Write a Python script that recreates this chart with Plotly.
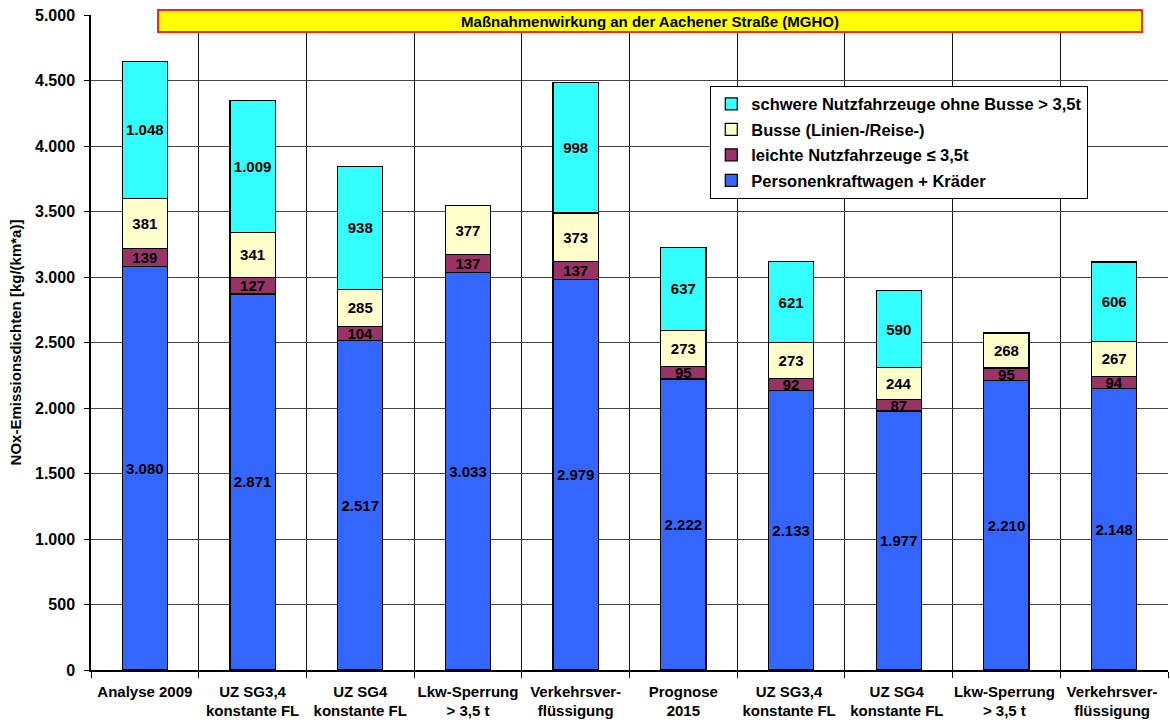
import plotly.graph_objects as go

# Szenarien (Kategorien der x-Achse)
categories = [
    "Analyse 2009",
    "UZ SG3,4<br>konstante FL",
    "UZ SG4<br>konstante FL",
    "Lkw-Sperrung<br>> 3,5 t",
    "Verkehrsver-<br>flüssigung",
    "Prognose<br>2015",
    "UZ SG3,4 <br>konstante FL ",
    "UZ SG4 <br>konstante FL ",
    "Lkw-Sperrung <br>> 3,5 t ",
    "Verkehrsver- <br>flüssigung ",
]

# NOx-Emissionsdichten in kg/(km*a) je Fahrzeuggruppe
pkw = [3080, 2871, 2517, 3033, 2979, 2222, 2133, 1977, 2210, 2148]
lnf = [139, 127, 104, 137, 137, 95, 92, 87, 95, 94]
busse = [381, 341, 285, 377, 373, 273, 273, 244, 268, 267]
snf = [1048, 1009, 938, None, 998, 637, 621, 590, None, 606]

series_names = [
    "Personenkraftwagen + Kräder",
    "leichte Nutzfahrzeuge ≤ 3,5t",
    "Busse (Linien-/Reise-)",
    "schwere Nutzfahrzeuge ohne Busse > 3,5t",
]
series_values = [pkw, lnf, busse, snf]
series_colors = ["#3366FF", "#993366", "#FFFFCC", "#33FFFF"]

y_ticks = list(range(0, 5001, 500))
y_ticktext = [f"{v:,}".replace(",", ".") for v in y_ticks]


def fmt(v):
    return "" if v is None else f"{v:,}".replace(",", ".")


FONT = "Liberation Sans, Arial, sans-serif"

fig = go.Figure()
n = len(series_names)
for i, (name, vals, color) in enumerate(zip(series_names, series_values, series_colors)):
    fig.add_trace(go.Bar(
        name=f"<b>{name}</b>",
        legendgroup=f"g{i}",
        legendrank=n - i,
        x=categories,
        y=vals,
        marker=dict(color=color, line=dict(color="#000000", width=1.2)),
        text=[fmt(v) for v in vals],
        textposition="inside",
        insidetextanchor="middle",
        textangle=0,
        textfont=dict(family=FONT, size=15, color="#000000", weight="bold"),
        width=0.42,
        hoverinfo="skip",
    ))

fig.update_layout(
    width=1170,
    height=724,
    barmode="stack",
    paper_bgcolor="#FFFFFF",
    plot_bgcolor="#FFFFFF",
    margin=dict(l=91, r=2, t=15, b=54, autoexpand=False),
    font=dict(family=FONT, color="#000000"),
    uniformtext=dict(minsize=15, mode="show"),
    legend=dict(
        x=0.575, y=0.892, xanchor="left", yanchor="top",
        traceorder="grouped",
        bgcolor="#FFFFFF",
        bordercolor="#000000",
        borderwidth=1,
        font=dict(family=FONT, size=16.5, color="#000000"),
        itemwidth=30,
        tracegroupgap=1,
    ),
    annotations=[dict(
        text="<b>Maßnahmenwirkung an der Aachener Straße (MGHO)</b>",
        xref="paper", yref="paper",
        x=0.519, y=0.9908, xanchor="center", yanchor="middle",
        showarrow=False,
        width=980, height=18,
        bgcolor="#FFFF00",
        bordercolor="#FF2020",
        borderwidth=2,
        font=dict(family=FONT, size=15, color="#000000"),
    )],
)

fig.update_yaxes(
    range=[0, 5000],
    tickvals=y_ticks,
    ticktext=y_ticktext,
    ticks="outside",
    ticklen=5,
    tickcolor="#000000",
    ticklabelstandoff=6,
    showline=True,
    linecolor="#000000",
    linewidth=1.5,
    showgrid=True,
    gridcolor="#444444",
    gridwidth=1,
    zeroline=False,
    automargin=False,
    tickfont=dict(family=FONT, size=16, color="#000000", weight="bold"),
    title=dict(
        text="<b>NOx-Emissionsdichten [kg/(km*a)]</b>",
        font=dict(family=FONT, size=15, color="#000000"),
        standoff=10,
    ),
)

fig.update_xaxes(
    tickson="boundaries",
    ticks="outside",
    ticklen=6,
    tickcolor="#000000",
    ticklabelstandoff=7,
    tickangle=0,
    showline=True,
    linecolor="#000000",
    linewidth=1.5,
    showgrid=True,
    gridcolor="#111111",
    gridwidth=1,
    automargin=False,
    tickfont=dict(family=FONT, size=15, color="#000000", weight="bold"),
)

fig.write_html("out.html")
